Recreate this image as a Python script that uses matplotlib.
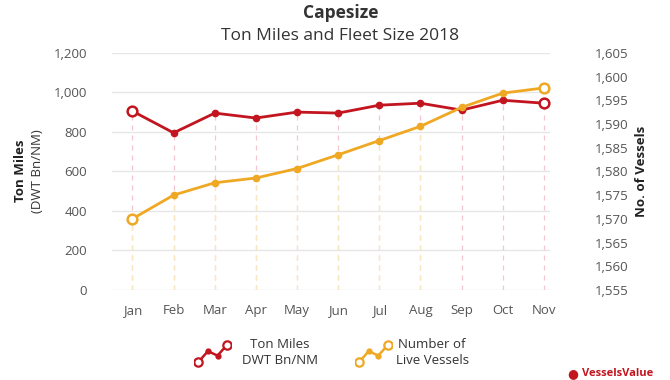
import numpy as np
import matplotlib
matplotlib.use("Agg")
import matplotlib.pyplot as plt

months = ["Jan", "Feb", "Mar", "Apr", "May", "Jun", "Jul", "Aug", "Sep", "Oct", "Nov"]
ton_miles = [905, 795, 895, 870, 900, 895, 935, 945, 910, 960, 945]
vessels = [1570.0, 1575.0, 1577.6, 1578.6, 1580.6, 1583.5, 1586.5, 1589.5, 1593.5, 1596.5, 1597.6]

left_ticks = [0, 200, 400, 600, 800, 1000, 1200]
right_ticks = [1555, 1560, 1565, 1570, 1575, 1580, 1585, 1590, 1595, 1600, 1605]

RED = "#c2151f"
YEL = "#efa823"
PINK = "#f5c6cd"
LYEL = "#f8e8bf"
GREY = "#555555"

plt.rcParams["font.family"] = ["Open Sans", "DejaVu Sans"]

fig = plt.figure(figsize=(6.7, 3.8), dpi=100)
ax = fig.add_axes([0.167, 0.237, 0.654, 0.624])
ax2 = ax.twinx()

x = np.arange(len(months))

ax.set_xlim(-0.5, 10.15)
ax.set_ylim(0, 1200)
ax2.set_ylim(1555, 1605)

# grid
for t in left_ticks:
    ax.axhline(t, color="#e6e6e6", lw=1, zorder=0)

ax.set_yticks(left_ticks)
ax.set_yticklabels([f"{t:,}" for t in left_ticks])
ax2.set_yticks(right_ticks)
ax2.set_yticklabels([f"{t:,}" for t in right_ticks])
ax.set_xticks(x)
ax.set_xticklabels(months)

for a in (ax, ax2):
    for s in a.spines.values():
        s.set_visible(False)
    a.tick_params(length=0, colors=GREY, labelsize=9.5)
ax.tick_params(axis="x", pad=10)
ax.tick_params(axis="y", pad=18)
ax2.tick_params(axis="y", pad=32)

# drop lines: red on main axes, yellow on twin only where it is the lower point
fig.canvas.draw()
ax.vlines(x, 0, ton_miles, colors=PINK, lw=0.9, linestyles=(0, (4, 4)), zorder=1)
for i in x:
    ry = ax.transData.transform((i, ton_miles[i]))[1]
    yy = ax2.transData.transform((i, vessels[i]))[1]
    if yy < ry - 2:
        ax2.vlines(i, 1555, vessels[i], colors=LYEL, lw=0.9, linestyles=(0, (4, 4)), zorder=1)

# lines
ax.plot(x, ton_miles, color=RED, lw=2, marker="o", ms=4.5, zorder=3)
ax.plot([x[0], x[-1]], [ton_miles[0], ton_miles[-1]], ls="none", marker="o", ms=7,
        mfc="white", mec=RED, mew=1.8, zorder=4)
ax2.plot(x, vessels, color=YEL, lw=2, marker="o", ms=4.5, zorder=3)
ax2.plot([x[0], x[-1]], [vessels[0], vessels[-1]], ls="none", marker="o", ms=7,
         mfc="white", mec=YEL, mew=1.8, zorder=4)

# titles
fig.text(0.508, 0.965, "Capesize", ha="center", va="center", fontsize=12.5,
         fontweight="bold", color="#333333")
fig.text(0.508, 0.905, "Ton Miles and Fleet Size 2018", ha="center", va="center",
         fontsize=12.5, color="#333333")

# axis labels
fig.text(0.03, 0.55, "Ton Miles", rotation=90, ha="center", va="center",
         fontsize=9.5, fontweight="bold", color="#222222")
fig.text(0.056, 0.55, "(DWT Bn/NM)", rotation=90, ha="center", va="center",
         fontsize=9.5, color="#333333")
fig.text(0.958, 0.55, "No. of Vessels", rotation=90, ha="center", va="center",
         fontsize=9.5, fontweight="bold", color="#222222")

# legend icons
icon_x = [0, 1, 2, 3]
icon_y = [0, 1, 0.6, 1.6]
for left, col in ((0.29, RED), (0.53, YEL)):
    ia = fig.add_axes([left, 0.035, 0.055, 0.07])
    ia.plot(icon_x, icon_y, color=col, lw=1.8, marker="o", ms=3.5)
    ia.plot([icon_x[0], icon_x[-1]], [icon_y[0], icon_y[-1]], ls="none", marker="o",
            ms=6, mfc="white", mec=col, mew=1.6)
    ia.set_xlim(-0.4, 3.4)
    ia.set_ylim(-0.4, 2.0)
    ia.axis("off")

fig.text(0.418, 0.073, "Ton Miles\nDWT Bn/NM", ha="center", va="center",
         fontsize=9.5, color="#333333", linespacing=1.3)
fig.text(0.645, 0.073, "Number of\nLive Vessels", ha="center", va="center",
         fontsize=9.5, color="#333333", linespacing=1.3)

# logo
fig.text(0.855, 0.018, "\u25cf", ha="center", va="center", fontsize=9, color=RED)
fig.text(0.868, 0.018, "VesselsValue", ha="left", va="center", fontsize=8,
         fontweight="bold", color=RED)

fig.savefig("out.png", dpi=100, facecolor="white")
